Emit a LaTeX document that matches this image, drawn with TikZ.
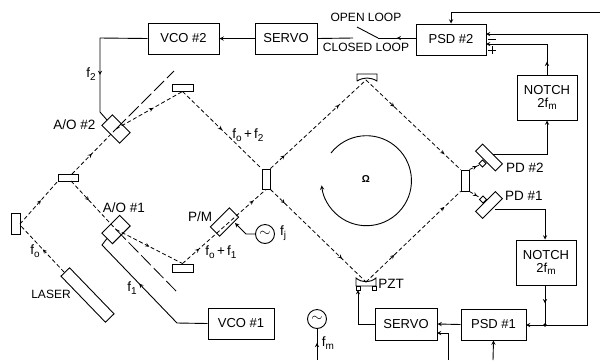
\documentclass[tikz,border=0pt]{standalone}
\usepackage{fontspec}
\setmainfont{Liberation Sans}
\usetikzlibrary{decorations.markings}
\newcommand{\fsub}[1]{f\raisebox{-2.5pt}{\fontsize{10}{11}\selectfont #1}}
\tikzset{
    unit/.style={draw, rectangle, inner sep=0pt, line width=1pt, align=center, font=\fontsize{13}{14}\selectfont},
    label/.style={inner sep=0pt, font=\fontsize{12}{13}\selectfont},
    biglabel/.style={inner sep=0pt, font=\fontsize{13.5}{14}\selectfont},
    optic/.style={draw, rectangle, inner sep=0pt, line width=0.9pt},
    osc/.style={draw, circle, line width=0.9pt, minimum size=19pt, inner sep=0pt, font=\fontsize{14}{15}\selectfont},
    beam/.style={line width=0.8pt, dash pattern=on 4pt off 2.5pt},
    deflect/.style={line width=0.8pt, dash pattern=on 14pt off 4pt},
    wire/.style={line width=0.9pt},
    arrowat/.style={postaction={decorate, decoration={markings, mark=at position #1 with {\arrow[solid]{stealth}}}}},
}
\begin{document}
\begin{tikzpicture}[>=stealth, x=1pt, y=-1pt]
        \useasboundingbox (0,0) rectangle (600,360);

        % Electronics
        \node[unit, minimum width=71pt, minimum height=31pt] (vcotwo) at (183.5,38.5) {VCO \#2};
        \node[unit, minimum width=62pt, minimum height=31pt] (servotwo) at (286,38.5) {SERVO};
        \node[unit, minimum width=70pt, minimum height=31pt] (psdtwo) at (451,39.5) {PSD \#2};
        \node[unit, minimum width=60pt, minimum height=45pt] (notchtwo) at (547,97.5) {NOTCH\\[-1pt]2\fsub{m}};
        \node[unit, minimum width=60pt, minimum height=45pt] (notchone) at (546,262.5) {NOTCH\\[-1pt]2\fsub{m}};
        \node[unit, minimum width=65pt, minimum height=31pt] (psdone) at (493.5,324.5) {PSD \#1};
        \node[unit, minimum width=62pt, minimum height=32pt] (servoone) at (406,324) {SERVO};
        \node[unit, minimum width=66pt, minimum height=31pt] (vcoone) at (241,323.5) {VCO \#1};
        \node[osc] (oscm) at (317,319) {$\sim$};
        \node[osc] (oscj) at (265,234) {$\sim$};

        % Optics
        \node[optic, minimum width=9pt, minimum height=21pt] (mleft) at (15.5,224) {};
        \node[optic, minimum width=20pt, minimum height=7pt] (msplit) at (68,177.5) {};
        \node[optic, minimum width=21pt, minimum height=7pt] (mupper) at (182.5,87.5) {};
        \node[optic, minimum width=21pt, minimum height=8pt] (mlower) at (182.5,268) {};
        \node[optic, minimum width=8pt, minimum height=20pt] (bsleft) at (266,179) {};
        \node[optic, minimum width=8pt, minimum height=21pt] (bsright) at (465,180.5) {};
        \node[optic, minimum width=25pt, minimum height=15pt, rotate=-45] (aotwo) at (116,129) {};
        \node[optic, minimum width=25pt, minimum height=15pt, rotate=45] (aoone) at (116,229.5) {};
        \node[optic, minimum width=27pt, minimum height=13pt, rotate=45] (pm) at (224.5,222) {};
        \node[optic, minimum width=64pt, minimum height=12pt, rotate=-46] (laser) at (87.5,295) {};
        \node[optic, minimum width=28pt, minimum height=10pt, rotate=-45] (pdtwo) at (489,157.5) {};
        \node[optic, minimum width=28pt, minimum height=10pt, rotate=45] (pdone) at (489,205) {};
        \node[optic, minimum width=5pt, minimum height=5pt, rotate=45] (pdtwostub) at (482.5,163.5) {};
        \node[optic, minimum width=5pt, minimum height=5pt, rotate=-45] (pdonestub) at (483,199.5) {};

        % Curved mirror and PZT
        \coordinate (mtop) at (366,80);
        \coordinate (mpzt) at (366,282);
        \draw[line width=0.9pt] (357,81) -- (357,74) -- (377,74) -- (377,81) .. controls (370,77) and (364,77) .. (357,81);
        \draw[line width=0.9pt] (356,278) .. controls (362,283) and (370,283) .. (376,278) -- (376,286) -- (356,286) -- cycle;
        \draw[line width=0.9pt] (356,286) rectangle (360,290);
        \draw[line width=0.9pt] (372,286) rectangle (376,290);

        % Beams
        \coordinate (lasertip) at (64,272);
        \draw[beam, arrowat=0.48] (lasertip) -- (20,225);
        \draw[beam, arrowat=0.55] (20,224) -- (58,181);
        \draw[beam, arrowat=0.45] (72,174) -- (aotwo.center);
        \draw[deflect] (aotwo.center) -- (174,71);
        \draw[beam, arrowat=0.56] (aotwo.center) -- (mupper.south);
        \draw[beam, arrowat=0.5] (mupper.south) -- (bsleft.north west);
        \draw[beam, arrowat=0.4] (71,181) -- (aoone.center);
        \draw[deflect] (aoone.center) -- (178,293);
        \draw[beam, arrowat=0.5] (aoone.center) -- (mlower.north);
        \draw[beam, arrowat=0.2, arrowat=0.85] (mlower.north) -- (bsleft.south);
        \draw[beam, arrowat=0.15, arrowat=0.72] (bsleft.north east) -- (mtop);
        \draw[beam, arrowat=0.15, arrowat=0.75] (bsleft.south east) -- (mpzt);
        \draw[beam, arrowat=0.3, arrowat=0.83] (mtop) -- (bsright.north west);
        \draw[beam, arrowat=0.3, arrowat=0.83] (mpzt) -- (bsright.south west);
        \draw[beam, arrowat=0.7] (bsright.north east) -- (pdtwostub);
        \draw[beam, arrowat=0.7] (bsright.south east) -- (pdonestub);

        % Rotation
        \node[inner sep=0pt, font=\fontsize{10}{11}\bfseries\selectfont] (omega) at (366,179) {Ω};
        \draw[->, line width=0.9pt] (331,153) arc[start angle=-142, end angle=174, radius=45];

        % Wiring
        \draw[wire, arrowat=0.64] (vcotwo.west) -- (100,38) -- (100,112) -- (aotwo.west);
        \draw[wire, ->] (servotwo.west) -- (vcotwo.east);
        \coordinate (swfree) at (353,38);
        \coordinate (swtip) at (378,38);
        \coordinate (swopen) at (357,27);
        \draw[wire] (servotwo.east) -- (swfree);
        \draw[wire] (swopen) -- (swtip);
        \draw[wire, arrowat=0.5] (psdtwo.west |- swtip) -- (swtip);
        \coordinate (topin) at (600,12);
        \draw[wire, ->] (topin) -- (451,12) -- (psdtwo.north);
        \coordinate (psdtwoa) at (486,34);
        \coordinate (psdtwob) at (486,44);
        \coordinate (psdonein) at (526,325);
        \coordinate (joint) at (545,325);
        \draw[wire, ->] (joint) -- (587,325) -- (587,34) -- (psdtwoa);
        \draw[wire, ->] (joint) -- (psdonein);
        \draw[wire, ->, arrowat=0.14] (notchtwo.north) -- (547,44) -- (psdtwob);
        \coordinate (pdtwoout) at (493,154);
        \coordinate (pdoneout) at (495,209);
        \draw[wire, ->] (pdtwoout) -- (547,154) -- (notchtwo.south);
        \draw[wire, ->] (pdoneout) -- (545,209) -- (notchone.north -| joint);
        \draw[wire, arrowat=0.45] (notchone.south -| joint) -- (joint);
        \fill (joint) circle (1.8pt);
        \draw[wire, ->] (psdone.west) -- (servoone.east);
        \draw[wire, ->] (servoone.west) -- (358,324) -- (358,290);
        \coordinate (botservo) at (448,360);
        \coordinate (botpsd) at (493,360);
        \coordinate (botosc) at (317,360);
        \draw[wire, ->] (botservo) -- (448,333) -- (437,333);
        \draw[wire, ->] (botpsd) -- (psdone.south);
        \draw[wire, arrowat=0.55] (botosc) -- (oscm.south);
        \draw[wire, ->] (oscj.west) -- (246,234) -- (235,223);
        \draw[wire, arrowat=0.58] (vcoone.west) -- (177,323) -- (102,245) -- (aoone.west);

        % Signs
        \draw[line width=1pt] (488,39) -- (496,39);
        \draw[line width=1pt] (488,50) -- (496,50) (492,46) -- (492,54);

        % Labels
        \node[biglabel] (ftwo) at (91,74) {\fsub{2}};
        \node[biglabel] (aotwolabel) at (74.5,125) {A/O \#2};
        \node[biglabel] (fsumtwo) at (248,135) {\fsub{o}\,+\,\fsub{2}};
        \node[label] (openlabel) at (366,17) {OPEN LOOP};
        \node[label] (closedlabel) at (366,47) {CLOSED LOOP};
        \node[biglabel] (pdtwolabel) at (525,168) {PD \#2};
        \node[biglabel] (pdonelabel) at (524,196) {PD \#1};
        \node[biglabel] (aoonelabel) at (124,208) {A/O \#1};
        \node[biglabel] (pmlabel) at (200,217) {P/M};
        \node[biglabel] (fj) at (283,233) {\fsub{j}};
        \node[biglabel] (fsumone) at (221,252) {\fsub{o}\,+\,\fsub{1}};
        \node[biglabel] (fo) at (35,251) {\fsub{o}};
        \node[label] (laserlabel) at (51,294) {LASER};
        \node[biglabel] (fone) at (132,288) {\fsub{1}};
        \node[biglabel] (pztlabel) at (391,284) {PZT};
        \node[biglabel] (fm) at (328,343) {\fsub{m}};
    \end{tikzpicture}
\end{document}
